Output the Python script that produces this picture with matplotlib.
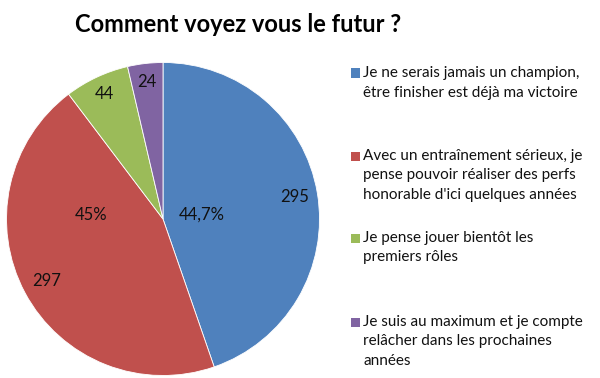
import numpy as np
import matplotlib.pyplot as plt
from matplotlib.patches import Rectangle

# donnees du sondage
reponses = [
    "Je ne serais jamais un champion,\nêtre finisher est déjà ma victoire",
    "Avec un entraînement sérieux, je\npense pouvoir réaliser des perfs\nhonorable d'ici quelques années",
    "Je pense jouer bientôt les\npremiers rôles",
    "Je suis au maximum et je compte\nrelâcher dans les prochaines\nannées",
]
votes = [295, 297, 44, 24]
pct_labels = ["44,7%", "45%", None, None]  # seuls les deux premiers affichent le %
couleurs = ["#4F81BD", "#C0504D", "#9BBB59", "#8064A2"]

W, H = 600, 378
fig = plt.figure(figsize=(W / 100, H / 100), dpi=100)
plt.rcParams['font.family'] = ['Lato', 'DejaVu Sans']

# camembert : centre (163, 219) px, rayon ~156 px
cx, cy, r = 163, 219, 156.5
ax = fig.add_axes([(cx - r) / W, (H - cy - r) / H, 2 * r / W, 2 * r / H])
wedges, _ = ax.pie(votes, colors=couleurs, startangle=90, counterclock=False,
                   wedgeprops=dict(edgecolor='white', linewidth=0.6))
ax.set_xlim(-1, 1)
ax.set_ylim(-1, 1)
ax.set_aspect('equal')

# etiquettes des valeurs, pres du bord
rayons_val = [0.85, 0.84, 0.88, 0.88]
for w, v, rv in zip(wedges, votes, rayons_val):
    a = np.deg2rad((w.theta1 + w.theta2) / 2)
    ax.text(rv * np.cos(a), rv * np.sin(a), str(v), ha='center', va='center',
            fontsize=12, color='#111111')

# pourcentages (position propre a chaque part)
pos_pct = [(0.25, 0.025), (-0.46, 0.025)]
for lab, (px, py) in zip(pct_labels, pos_pct):
    if lab:
        ax.text(px, py, lab, ha='center', va='center', fontsize=12, color='#111111')

# titre
fig.text(238 / W, 1 - 24 / H, "Comment voyez vous le futur ?", ha='center', va='center',
         fontsize=17, fontweight='bold', color='black')

# legende manuelle, une case par reponse
y_haut = [73, 156, 238, 322]
pas_ligne = 19.5
for lab, c, yt in zip(reponses, couleurs, y_haut):
    fig.patches.append(Rectangle((351 / W, 1 - (yt + 4.5) / H), 9 / W, 9 / H,
                                 transform=fig.transFigure, facecolor=c, edgecolor='none'))
    for k, ligne in enumerate(lab.split('\n')):
        fig.text(363 / W, 1 - (yt + k * pas_ligne) / H, ligne, ha='left', va='center',
                 fontsize=11, color='#111111')

fig.savefig("out.png", dpi=100)
